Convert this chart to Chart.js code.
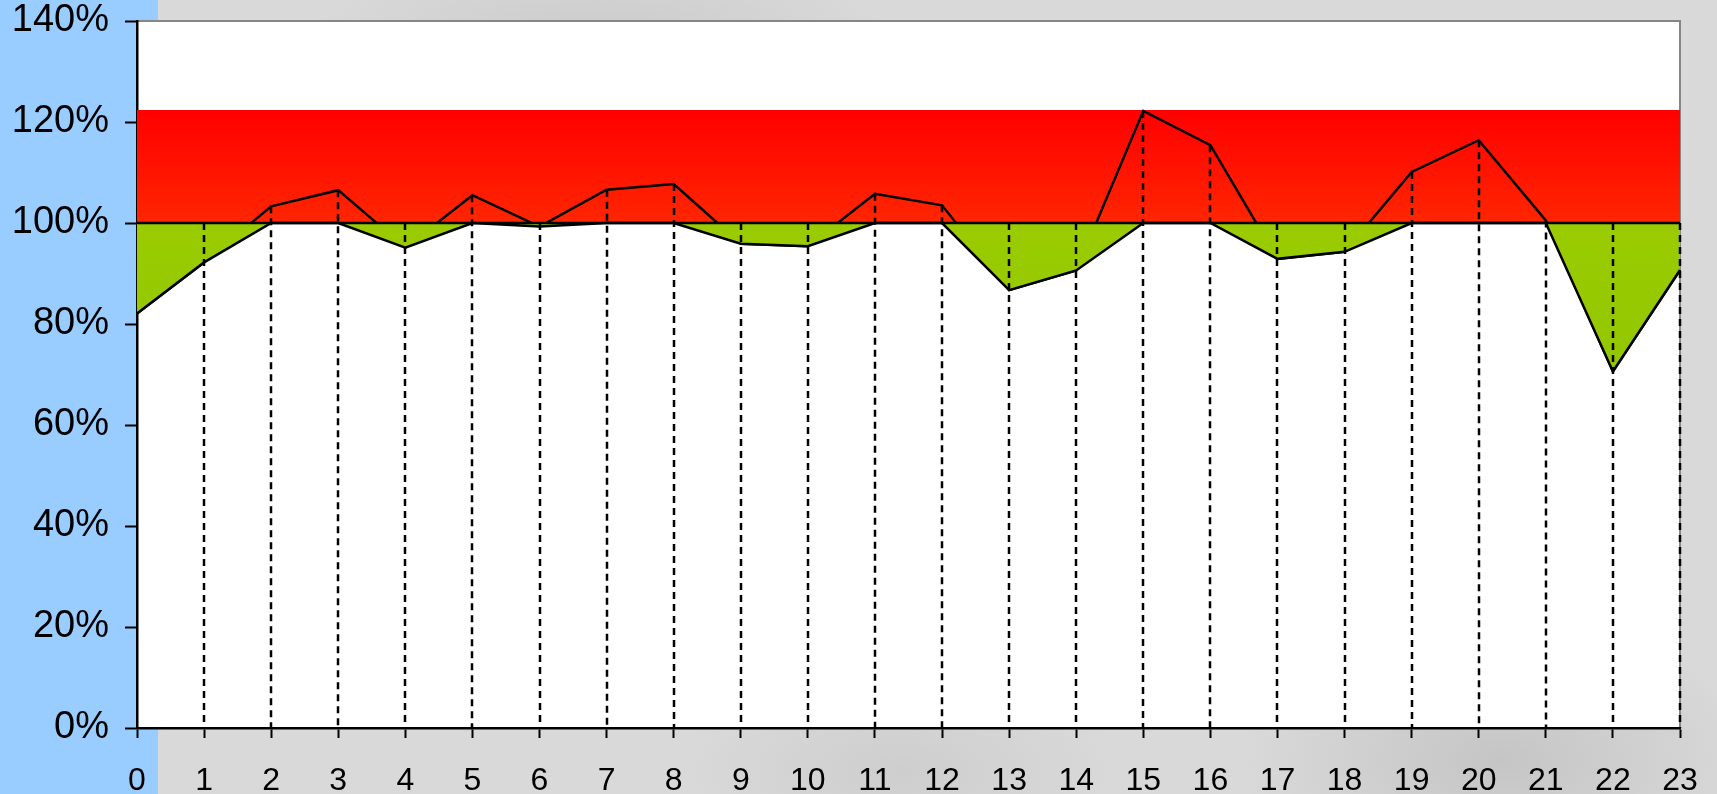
<!DOCTYPE html>
<html>
<head>
<meta charset="utf-8">
<script src="https://cdn.jsdelivr.net/npm/chart.js@4.4.1/dist/chart.umd.min.js"></script>
<style>
  html, body { margin: 0; padding: 0; }
  body {
    width: 1717px; height: 794px; overflow: hidden;
    background:
      linear-gradient(to right, #99ccff 0, #99ccff 158px, transparent 158px),
      radial-gradient(ellipse 300px 120px at 600px 60px, rgba(170,170,170,0.35), transparent),
      radial-gradient(ellipse 260px 140px at 1500px 760px, rgba(160,160,160,0.35), transparent),
      radial-gradient(ellipse 220px 100px at 900px 770px, rgba(185,185,185,0.35), transparent),
      #d9d9d9;
  }
  canvas { display: block; }
</style>
</head>
<body>
<canvas id="chart" width="1717" height="794"></canvas>
<script>
// hours along the bottom axis
const hours = ['0','1','2','3','4','5','6','7','8','9','10','11','12','13','14','15','16','17','18','19','20','21','22','23'];
// measured value per hour, in percent of target
const actual = [82.1, 92.2, 103.3, 106.5, 95.1, 105.5, 99.3, 106.6, 107.7, 95.9, 95.4, 105.8,
                103.5, 86.7, 90.6, 122.2, 115.4, 92.9, 94.3, 110.1, 116.4, 100.5, 70.6, 90.7];
const target = 100;       // 100% line
const upperLimit = 122.4; // top of the red band
const yTickValues = [0, 20, 40, 60, 80, 100, 120, 140];

const belowTarget = actual.map(v => Math.min(v, target));
const targetLine = hours.map(() => target);
const bandTop = hours.map(() => upperLimit);

const FONT = "'Liberation Sans', Arial, sans-serif";

function bandGradient(context, from, to, colTop, colBottom) {
  const chart = context.chart;
  const { ctx, chartArea, scales } = chart;
  if (!chartArea) return colTop;
  const y0 = scales.y.getPixelForValue(from);
  const y1 = scales.y.getPixelForValue(to);
  const g = ctx.createLinearGradient(0, y0, 0, y1);
  g.addColorStop(0, colTop);
  g.addColorStop(1, colBottom);
  return g;
}

// white plot area with grey frame on top and right
const plotBackground = {
  id: 'plotBackground',
  beforeDraw(chart) {
    const { ctx, chartArea: a } = chart;
    ctx.save();
    ctx.fillStyle = '#ffffff';
    ctx.fillRect(a.left, a.top, a.right - a.left, a.bottom - a.top);
    ctx.strokeStyle = '#868686';
    ctx.lineWidth = 2;
    ctx.beginPath();
    ctx.moveTo(a.left, a.top);
    ctx.lineTo(a.right, a.top);
    ctx.lineTo(a.right, a.bottom);
    ctx.stroke();
    ctx.restore();
  }
};

// dashed drop lines from each point down to the axis (the one at 0 sits under the y axis)
const dropLines = {
  id: 'dropLines',
  afterDatasetsDraw(chart) {
    const { ctx, scales } = chart;
    ctx.save();
    ctx.strokeStyle = '#000000';
    ctx.lineWidth = 2.5;
    ctx.setLineDash([7, 5]);
    actual.forEach((v, i) => {
      if (i === 0) return;
      const x = Math.round(scales.x.getPixelForValue(i));
      ctx.beginPath();
      ctx.moveTo(x, scales.y.getPixelForValue(Math.max(v, target)));
      ctx.lineTo(x, scales.y.getPixelForValue(0));
      ctx.stroke();
    });
    ctx.restore();
  }
};

new Chart(document.getElementById('chart'), {
  type: 'line',
  data: {
    labels: hours,
    datasets: [
      {
        label: 'target',
        data: targetLine,
        borderColor: '#000000',
        borderWidth: 2.5,
        pointRadius: 0,
        fill: false,
        order: 1
      },
      {
        label: 'below target',
        data: belowTarget,
        borderColor: '#000000',
        borderWidth: 2.5,
        pointRadius: 0,
        fill: { value: target },
        backgroundColor: ctx => bandGradient(ctx, target, 60, '#9acc00', '#8fc400'),
        order: 2
      },
      {
        label: 'actual',
        data: actual,
        borderColor: '#000000',
        borderWidth: 2.5,
        pointRadius: 0,
        fill: false,
        order: 3
      },
      {
        label: 'band',
        data: bandTop,
        borderWidth: 0,
        borderColor: 'rgba(0,0,0,0)',
        pointRadius: 0,
        fill: { value: target },
        backgroundColor: ctx => bandGradient(ctx, upperLimit, target, '#ff0000', '#ff2600'),
        order: 4
      }
    ]
  },
  options: {
    responsive: false,
    animation: false,
    layout: { padding: { top: 0, right: 37, left: 0, bottom: 0 } },
    plugins: { legend: { display: false }, tooltip: { enabled: false } },
    scales: {
      x: {
        offset: false,
        grid: { drawOnChartArea: false, drawTicks: true, tickLength: 10, tickWidth: 2, tickColor: '#000000' },
        border: { color: '#000000', width: 2.5 },
        ticks: { autoSkip: false, maxRotation: 0, color: '#000000', padding: 24, font: { family: FONT, size: 32 } },
        afterFit: s => { s.height = 66; s.paddingLeft = 0; s.paddingRight = 0; }
      },
      y: {
        min: 0,
        max: 140,
        afterBuildTicks: s => { s.ticks = yTickValues.map(v => ({ value: v })); },
        grid: { drawOnChartArea: false, drawTicks: true, tickLength: 12, tickWidth: 2, tickColor: '#000000' },
        border: { color: '#000000', width: 2.5 },
        ticks: { color: '#000000', padding: 16, font: { family: FONT, size: 38 }, callback: v => v + '%' },
        afterFit: s => { s.width = 137; s.paddingTop = 21; s.paddingBottom = 0; }
      }
    }
  },
  plugins: [plotBackground, dropLines]
});
</script>
</body>
</html>
